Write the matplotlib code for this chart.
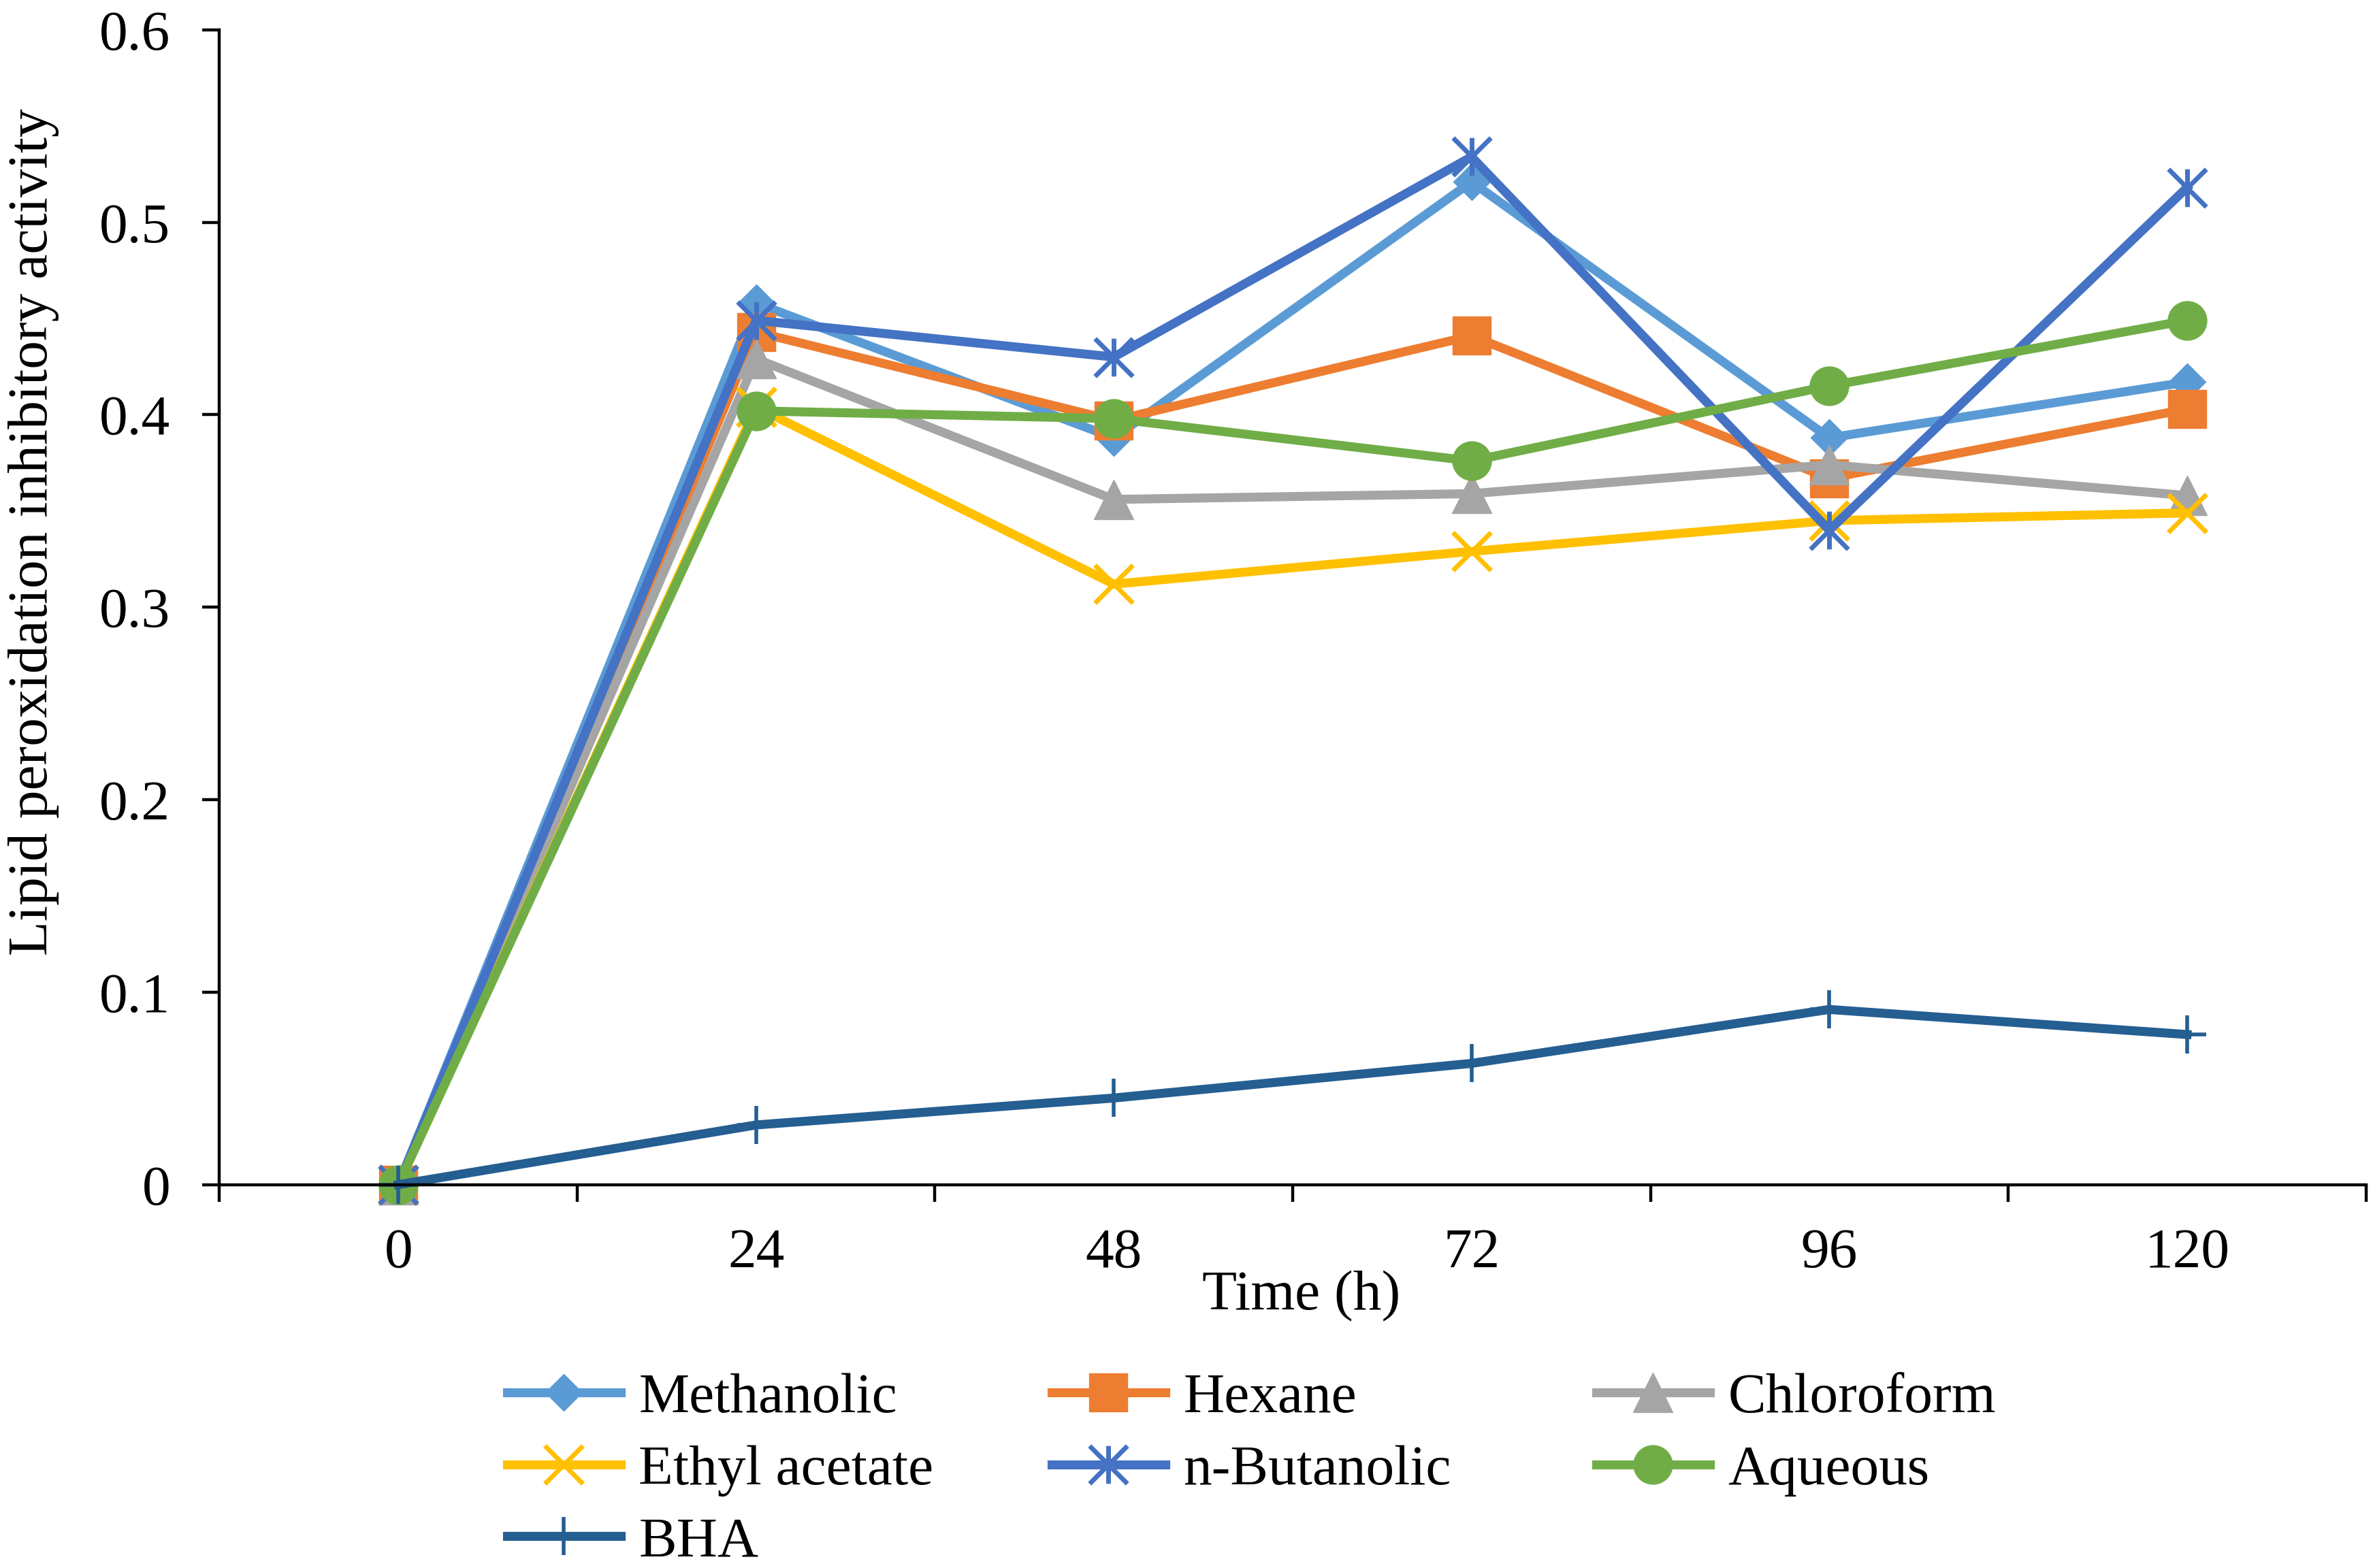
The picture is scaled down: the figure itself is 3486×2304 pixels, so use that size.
import matplotlib
matplotlib.use("Agg")
import matplotlib.pyplot as plt
from matplotlib.path import Path
import numpy as np

plt.rcParams['font.family'] = ['Liberation Serif', 'DejaVu Serif']

times = ["0", "24", "48", "72", "96", "120"]
methanolic = [0.0, 0.458, 0.388, 0.521, 0.388, 0.417]
hexane = [0.0, 0.443, 0.397, 0.441, 0.367, 0.403]
chloroform = [0.0, 0.429, 0.356, 0.359, 0.374, 0.358]
ethyl_acetate = [0.0, 0.404, 0.312, 0.329, 0.345, 0.349]
n_butanolic = [0.0, 0.449, 0.430, 0.534, 0.340, 0.518]
aqueous = [0.0, 0.402, 0.398, 0.376, 0.415, 0.449]
bha = [0.0, 0.031, 0.045, 0.063, 0.091, 0.078]
yticks = [0, 0.1, 0.2, 0.3, 0.4, 0.5, 0.6]
ytick_labels = ["0", "0.1", "0.2", "0.3", "0.4", "0.5", "0.6"]

asterisk = Path([(0, -0.5), (0, 0.5), (-0.5, -0.5), (0.5, 0.5), (-0.5, 0.5), (0.5, -0.5)],
                [Path.MOVETO, Path.LINETO, Path.MOVETO, Path.LINETO, Path.MOVETO, Path.LINETO])

series = [
    ("Methanolic", methanolic, "#5B9BD5", dict(marker='D', markersize=28)),
    ("Hexane", hexane, "#ED7D31", dict(marker='s', markersize=41)),
    ("Chloroform", chloroform, "#A5A5A5", dict(marker='^', markersize=42)),
    ("Ethyl acetate", ethyl_acetate, "#FFC000", dict(marker='x', markersize=40, markeredgewidth=5)),
    ("n-Butanolic", n_butanolic, "#4472C4", dict(marker=asterisk, markersize=40, markeredgewidth=5)),
    ("Aqueous", aqueous, "#70AD47", dict(marker='o', markersize=41)),
    ("BHA", bha, "#255E91", dict(marker='+', markersize=40, markeredgewidth=4)),
]

fig = plt.figure(figsize=(34.86, 23.04), dpi=100)
ax = fig.add_axes([0.0925, 0.2445, 0.9045, 0.7365])

x = np.arange(len(times))
handles = []
for name, vals, color, mk in series:
    h, = ax.plot(x, vals, color=color, linewidth=9.5, label=name, clip_on=False,
                 markerfacecolor=color, markeredgecolor=color, **mk)
    handles.append(h)

ax.set_xlim(-0.5, len(times) - 0.5)
ax.set_ylim(0, 0.6)
ax.set_xticks(np.arange(-0.5, len(times), 1.0))
ax.set_xticklabels([])
ax.set_xticks(x, minor=True)
ax.set_xticklabels(times, minor=True)
ax.set_yticks(yticks)
ax.set_yticklabels(ytick_labels)

for s in ['top', 'right']:
    ax.spines[s].set_visible(False)
for s in ['left', 'bottom']:
    ax.spines[s].set_linewidth(3.2)
ax.tick_params(axis='x', which='major', direction='out', length=18, width=3.2)
ax.tick_params(axis='x', which='minor', length=0, labelsize=60, pad=46)
ax.tick_params(axis='y', direction='out', length=18, width=3.2, labelsize=60, pad=34)

fig.text(0.0141, 0.6606, "Lipid peroxidation inhibitory activity", rotation=90,
         ha='center', va='center', fontsize=60)
fig.text(0.5485, 0.1735, "Time (h)", ha='center', va='center', fontsize=60)

cols = [[0, 3, 6], [1, 4], [2, 5]]
xs = [0.2137, 0.4432, 0.6727]
for c, xc in zip(cols, xs):
    leg = fig.legend([handles[i] for i in c], [series[i][0] for i in c],
                     loc='upper left', bbox_to_anchor=(xc, 0.1246), ncol=1,
                     frameon=False, fontsize=60, borderpad=0, borderaxespad=0,
                     handlelength=2.0, handletextpad=0.32, labelspacing=0.35,
                     numpoints=1)

fig.savefig("out.png", dpi=100)
